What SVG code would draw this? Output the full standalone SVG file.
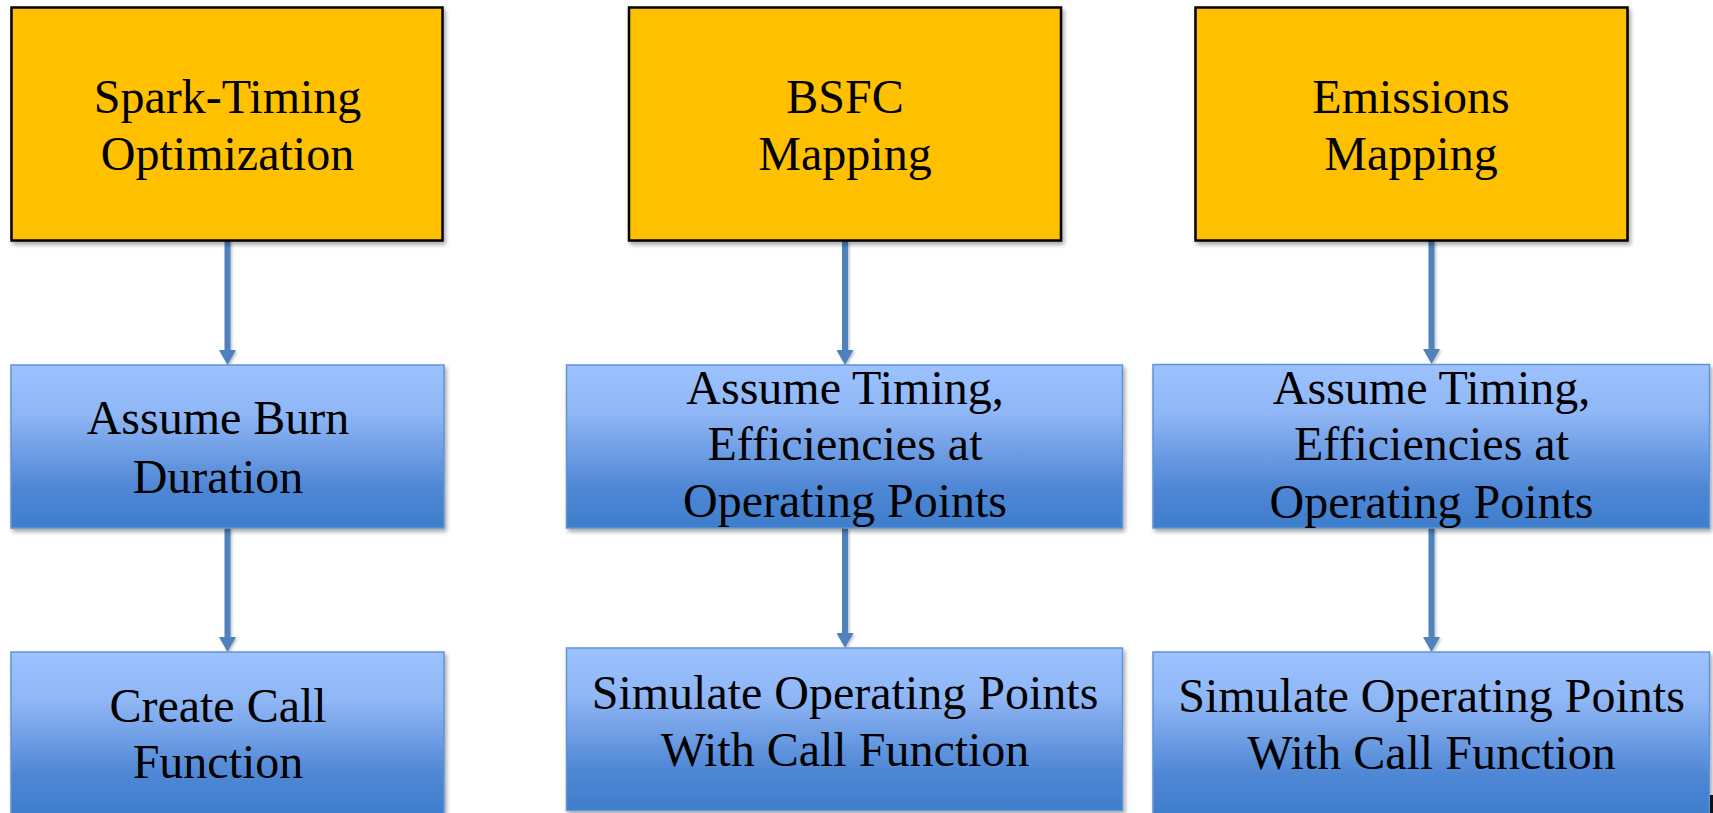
<svg xmlns="http://www.w3.org/2000/svg" width="1713" height="813" viewBox="0 0 1713 813">
  <defs>
    <linearGradient id="blueFill" x1="0" y1="0" x2="0" y2="1">
      <stop offset="0" stop-color="#9CC2FF"/>
      <stop offset="0.3" stop-color="#8FB6F5"/>
      <stop offset="0.75" stop-color="#4F87D5"/>
      <stop offset="1" stop-color="#3E7ECC"/>
    </linearGradient>
    <filter id="shadow" x="-5%" y="-5%" width="110%" height="115%">
      <feDropShadow dx="2" dy="3" stdDeviation="2" flood-color="#000" flood-opacity="0.35"/>
    </filter>
    <filter id="lineShadow" x="-50%" y="-5%" width="200%" height="110%">
      <feDropShadow dx="1.5" dy="1.5" stdDeviation="1.2" flood-color="#000" flood-opacity="0.25"/>
    </filter>
    <marker id="arrow" viewBox="0 0 15 17" refX="7" refY="8.5" markerWidth="15" markerHeight="17" markerUnits="userSpaceOnUse" orient="auto">
      <path d="M0,0 L15,8.5 L0,17 Z" fill="#4F81BD"/>
    </marker>
  </defs>
  <style>
    .stage { fill: #FFC000; stroke: #000; stroke-width: 2.5; filter: url(#shadow); }
    .step { fill: url(#blueFill); stroke: #6193D6; stroke-width: 1.5; filter: url(#shadow); }
    .label { font-family: "Liberation Serif", "Times New Roman", serif; font-size: 48px; fill: #000; text-anchor: middle; }
    .link { stroke: #4F81BD; stroke-width: 6; fill: none; marker-end: url(#arrow); }
  </style>

  <rect width="1713" height="813" fill="#FFFFFF"/>

  <!-- connectors -->
  <g id="connectors" filter="url(#lineShadow)">
    <line class="link" x1="227.5" y1="241" x2="227.5" y2="357"/>
    <line class="link" x1="227.5" y1="528" x2="227.5" y2="644"/>
    <line class="link" x1="845" y1="241" x2="845" y2="357"/>
    <line class="link" x1="845" y1="528" x2="845" y2="640"/>
    <line class="link" x1="1431.5" y1="241" x2="1431.5" y2="356"/>
    <line class="link" x1="1431.5" y1="528" x2="1431.5" y2="644"/>
  </g>

  <!-- column 1 -->
  <g id="spark-timing">
    <rect class="stage" x="11.5" y="7.5" width="431" height="233"/>
    <text class="label" x="227.5" y="113">Spark-Timing</text>
    <text class="label" x="227.5" y="170">Optimization</text>
  </g>
  <g id="burn-duration">
    <rect class="step" x="11" y="365" width="433" height="163"/>
    <text class="label" x="218" y="434">Assume Burn</text>
    <text class="label" x="218" y="493">Duration</text>
  </g>
  <g id="call-function">
    <rect class="step" x="11" y="652" width="433" height="163"/>
    <text class="label" x="218" y="722">Create Call</text>
    <text class="label" x="218" y="778">Function</text>
  </g>

  <!-- column 2 -->
  <g id="bsfc-mapping">
    <rect class="stage" x="629" y="7.5" width="432" height="233"/>
    <text class="label" x="845" y="113">BSFC</text>
    <text class="label" x="845" y="170">Mapping</text>
  </g>
  <g id="bsfc-assume">
    <rect class="step" x="566.5" y="365" width="556" height="163"/>
    <text class="label" x="845" y="404">Assume Timing,</text>
    <text class="label" x="845" y="460">Efficiencies at</text>
    <text class="label" x="845" y="517">Operating Points</text>
  </g>
  <g id="bsfc-simulate">
    <rect class="step" x="566.5" y="648" width="556" height="162.5"/>
    <text class="label" x="845" y="709">Simulate Operating Points</text>
    <text class="label" x="845" y="766">With Call Function</text>
  </g>

  <!-- column 3 -->
  <g id="emissions-mapping">
    <rect class="stage" x="1195.5" y="7.5" width="432" height="233"/>
    <text class="label" x="1411" y="113">Emissions</text>
    <text class="label" x="1411" y="170">Mapping</text>
  </g>
  <g id="emissions-assume">
    <rect class="step" x="1153" y="364.5" width="556.5" height="163.5"/>
    <text class="label" x="1431.5" y="404">Assume Timing,</text>
    <text class="label" x="1431.5" y="460">Efficiencies at</text>
    <text class="label" x="1431.5" y="517.5">Operating Points</text>
  </g>
  <g id="emissions-simulate">
    <rect class="step" x="1153" y="652" width="556.5" height="163"/>
    <text class="label" x="1431.5" y="712">Simulate Operating Points</text>
    <text class="label" x="1431.5" y="769">With Call Function</text>
  </g>

  <!-- edge mark at lower right -->
  <rect x="1710" y="795" width="3" height="18" fill="#111"/>
</svg>
